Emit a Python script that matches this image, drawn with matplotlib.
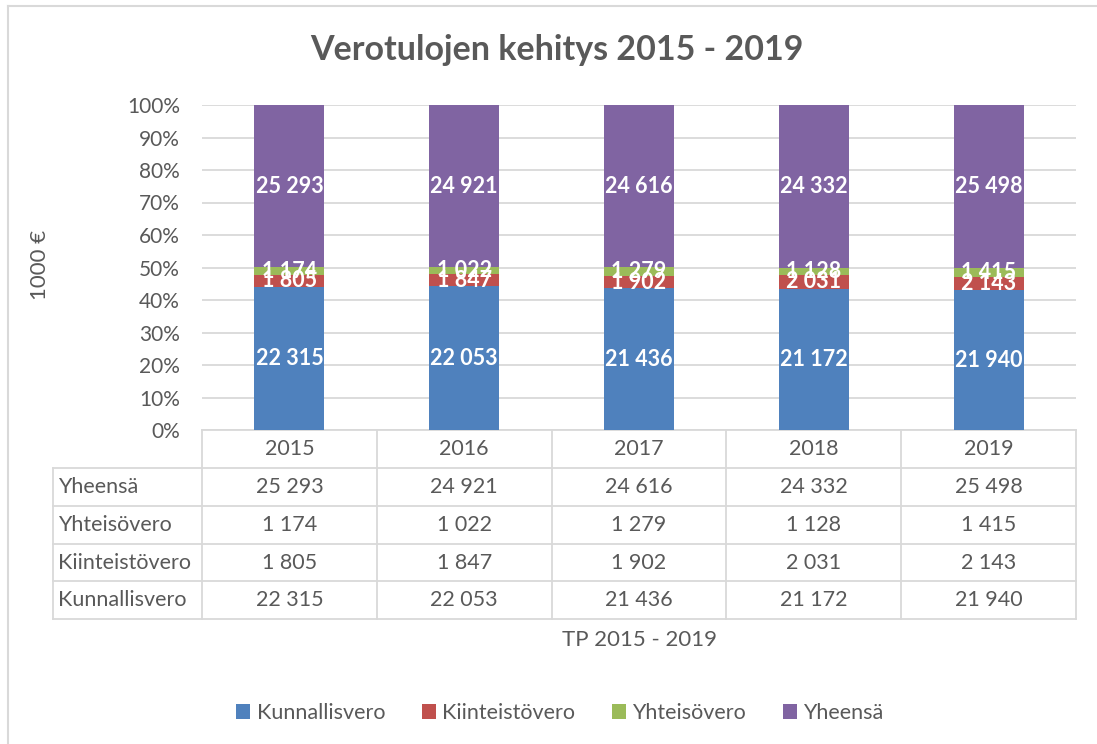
import numpy as np
import matplotlib.pyplot as plt
from matplotlib.lines import Line2D
import matplotlib.transforms as mtransforms

plt.rcParams['font.family'] = ['Lato', 'DejaVu Sans']

vuodet = ['2015', '2016', '2017', '2018', '2019']
sarjat = ['Kunnallisvero', 'Kiinteistövero', 'Yhteisövero', 'Yheensä']
kunnallisvero = [22315, 22053, 21436, 21172, 21940]
kiinteistovero = [1805, 1847, 1902, 2031, 2143]
yhteisovero = [1174, 1022, 1279, 1128, 1415]
yheensa = [25293, 24921, 24616, 24332, 25498]
varit = ['#4F81BD', '#C0504D', '#9BBB59', '#8064A2']

harmaa = '#595959'
viiva = '#D9D9D9'


def muoto(v):
    # tuhaterotin välilyönnillä
    return f"{v:,}".replace(",", " ")


arvot = np.array([kunnallisvero, kiinteistovero, yhteisovero, yheensa], dtype=float)
osuudet = arvot / arvot.sum(axis=0) * 100

W, H = 1097, 744
fig = plt.figure(figsize=(W / 100, H / 100), dpi=100)
ax = fig.add_axes([202 / W, 1 - 430 / H, 874 / W, 325 / H])

x = np.arange(len(vuodet))
pohja = np.zeros(len(vuodet))
palkit = []
for i, nimi in enumerate(sarjat):
    b = ax.bar(x, osuudet[i], 0.4, bottom=pohja, color=varit[i], label=nimi, zorder=3)
    palkit.append(b)
    for j in range(len(vuodet)):
        ax.text(x[j], pohja[j] + osuudet[i][j] / 2, muoto(int(arvot[i][j])),
                ha='center', va='center', color='white', fontsize=15.5,
                fontweight='bold', zorder=4)
    pohja += osuudet[i]

ax.set_xlim(-0.5, len(vuodet) - 0.5)
ax.set_ylim(0, 100)
ax.set_yticks(np.arange(0, 101, 10))
ax.set_yticklabels([f"{t}%" for t in range(0, 101, 10)], color=harmaa, fontsize=15)
ax.tick_params(axis='y', length=0, pad=16)
ax.set_xticks([])
ax.grid(axis='y', color=viiva, linewidth=1.3, zorder=0)
for s in ax.spines.values():
    s.set_visible(False)

# datataulukko akselin alle
tr = mtransforms.blended_transform_factory(ax.transData, ax.transAxes)
rivi = 0.1165
vasen = -0.5 - 149 / 174.8
rivit = [('Yheensä', yheensa), ('Yhteisövero', yhteisovero),
         ('Kiinteistövero', kiinteistovero), ('Kunnallisvero', kunnallisvero)]
n = len(rivit)
alin = -rivi * (n + 1)

def lin(xs, ys):
    ax.add_line(Line2D(xs, ys, transform=tr, color=viiva, linewidth=1.3, clip_on=False))

lin([-0.5, len(vuodet) - 0.5], [0, 0])
for k in range(1, n + 2):
    lin([vasen, len(vuodet) - 0.5], [-rivi * k, -rivi * k])
for j in range(len(vuodet) + 1):
    lin([j - 0.5, j - 0.5], [0, alin])
lin([vasen, vasen], [-rivi, alin])

for j, v in enumerate(vuodet):
    ax.text(j, -rivi / 2, v, transform=tr, ha='center', va='center',
            color=harmaa, fontsize=15.5)
for k, (nimi, data) in enumerate(rivit):
    yy = -rivi * (k + 1.5)
    ax.text(vasen + 0.03, yy, nimi, transform=tr, ha='left', va='center',
            color=harmaa, fontsize=15.5)
    for j in range(len(vuodet)):
        ax.text(j, yy, muoto(data[j]), transform=tr, ha='center', va='center',
                color=harmaa, fontsize=15.5)

ax.text(0.5, -0.646, 'TP 2015 - 2019', transform=ax.transAxes, ha='center',
        va='center', color=harmaa, fontsize=16)

fig.text(557 / W, 1 - 50 / H, 'Verotulojen kehitys 2015 - 2019', ha='center',
         va='center', color=harmaa, fontsize=24.5, fontweight='bold')
fig.text(40 / W, 1 - 265 / H, '1000 €', rotation=90, ha='center', va='center',
         color=harmaa, fontsize=16)

fig.legend(handles=palkit, labels=sarjat, loc='center', ncol=4,
           bbox_to_anchor=(560 / W, 1 - 713 / H), frameon=False, fontsize=15.5,
           handlelength=0.65, handleheight=0.65, handletextpad=0.3, columnspacing=1.7,
           labelcolor=harmaa)

# kaavion reunus
fig.add_artist(Line2D([8 / W, 8 / W], [0, 1 - 6 / H], color=viiva, linewidth=1.5))
fig.add_artist(Line2D([8 / W, 1], [1 - 6 / H, 1 - 6 / H], color=viiva, linewidth=1.5))

fig.savefig('out.png', dpi=100)
